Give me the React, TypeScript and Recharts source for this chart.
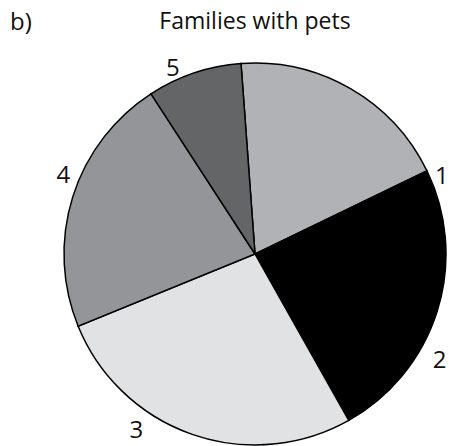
import React from "react";
import { PieChart, Pie, Cell } from "recharts";

const categories = ["1", "2", "3", "4", "5"];
const values = [19, 24, 27, 22, 8];
const colors = ["#b1b2b5", "#000000", "#e1e2e4", "#939598", "#646567"];
const title = "Families with pets";
const panelLabel = "b)";

// label placement tweaks (degrees clockwise from slice middle, radius beyond outer edge)
const labelAngleShift = [37, 12, 15, 5.5, -5];
const labelRadiusExtra = [12, 21, 20, 17, 14];

const data = categories.map((c, i) => ({ name: c, value: values[i] }));

const W = 449;
const H = 446;
const CX = 255;
const CY = 254;
const R = 191;
const START = 94.2;

const RAD = Math.PI / 180;

const renderLabel = (props: any) => {
  const { cx, cy, midAngle, outerRadius, index, name } = props;
  const ang = midAngle - labelAngleShift[index];
  const r = outerRadius + labelRadiusExtra[index];
  const x = cx + r * Math.cos(ang * RAD);
  const y = cy - r * Math.sin(ang * RAD);
  return (
    <text
      key={"lbl" + index}
      x={x}
      y={y}
      textAnchor="middle"
      dominantBaseline="central"
      fill="#111"
      fontSize={24}
      fontFamily="'Open Sans', sans-serif"
    >
      {name}
    </text>
  );
};

export default function App() {
  return (
    <div style={{ position: "absolute", left: 0, top: 0, width: W, height: H, background: "#fff" }}>
      <PieChart width={W} height={H} margin={{ top: 0, right: 0, bottom: 0, left: 0 }}>
        <Pie
          data={data}
          dataKey="value"
          nameKey="name"
          cx={CX}
          cy={CY}
          outerRadius={R}
          startAngle={START}
          endAngle={START - 360}
          stroke="#000"
          strokeWidth={1.5}
          label={renderLabel}
          labelLine={false}
          isAnimationActive={false}
        >
          {data.map((d, i) => (
            <Cell key={d.name} fill={colors[i]} />
          ))}
        </Pie>
      </PieChart>
      <svg
        width={W}
        height={H}
        style={{ position: "absolute", left: 0, top: 0, pointerEvents: "none" }}
      >
        <text x={10} y={30} fontSize={24} fill="#111" fontFamily="'Open Sans', sans-serif">
          {panelLabel}
        </text>
        <text
          x={255}
          y={29}
          textAnchor="middle"
          fontSize={23}
          fill="#111"
          fontFamily="'Open Sans', sans-serif"
        >
          {title}
        </text>
      </svg>
    </div>
  );
}
